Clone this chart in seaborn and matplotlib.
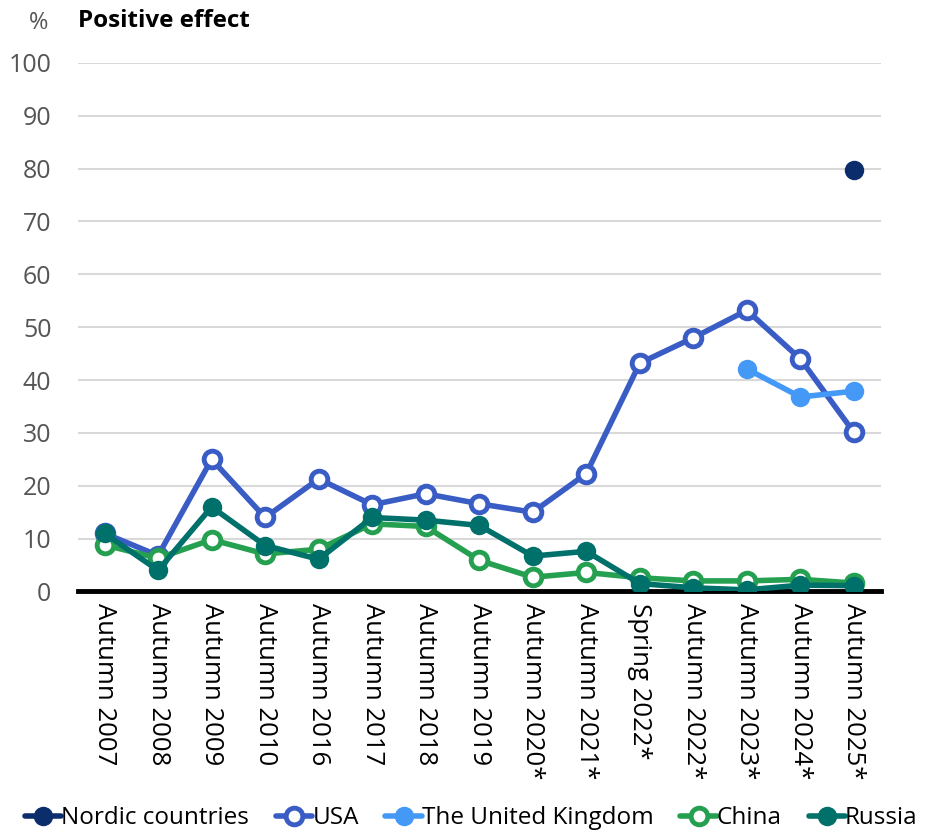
import numpy as np
import pandas as pd
import matplotlib
matplotlib.use('Agg')
import matplotlib.pyplot as plt
import seaborn as sns

# ─── DATA ─────────────────────────────────────────────────────────────────────
PERIODS = ['Autumn 2007', 'Autumn 2008', 'Autumn 2009', 'Autumn 2010', 'Autumn 2016',
           'Autumn 2017', 'Autumn 2018', 'Autumn 2019', 'Autumn 2020*', 'Autumn 2021*',
           'Spring 2022*', 'Autumn 2022*', 'Autumn 2023*', 'Autumn 2024*', 'Autumn 2025*']

nordic = [np.nan] * 14 + [79.8]
usa = [11.0, 6.8, 25.0, 14.0, 21.3, 16.4, 18.5, 16.6, 15.0, 22.3, 43.2, 48.0, 53.2, 44.0, 30.1]
uk = [np.nan] * 12 + [42.1, 36.8, 37.9]
china = [8.8, 6.3, 9.8, 7.1, 8.0, 12.8, 12.3, 5.9, 2.7, 3.6, 2.6, 2.0, 2.0, 2.3, 1.6]
russia = [11.0, 4.0, 16.0, 8.7, 6.1, 14.0, 13.5, 12.5, 6.7, 7.6, 1.5, 0.7, 0.3, 1.2, 1.1]

SERIES = {
    'Nordic countries':   (nordic, '#0b2d6b', True),
    'USA':                (usa,    '#3a5cc5', False),
    'The United Kingdom': (uk,     '#4499f7', True),
    'China':              (china,  '#25a050', False),
    'Russia':             (russia, '#00706a', True),
}

# ─── PLOT ─────────────────────────────────────────────────────────────────────
sns.set_theme(style='white')
plt.rcParams['font.family'] = ['Open Sans', 'DejaVu Sans']

fig, ax = plt.subplots(figsize=(9.49, 8.39), dpi=100)
fig.subplots_adjust(left=0.082, right=0.928, top=0.925, bottom=0.295)

x = np.arange(len(PERIODS))
for name, (vals, color, filled) in SERIES.items():
    df = pd.DataFrame({'x': x, 'y': vals}).dropna()
    sns.lineplot(
        data=df, x='x', y='y', ax=ax, color=color, linewidth=4,
        marker='o', markersize=14 if filled else 12,
        markerfacecolor=color if filled else 'white',
        markeredgecolor=color, markeredgewidth=0 if filled else 3.5,
        label=name, zorder=3,
    )

ax.set_ylim(0, 100)
ax.set_xlim(-0.5, len(PERIODS) - 0.5)
ax.set_yticks(range(0, 101, 10))
ax.set_xticks(x)
ax.set_xticklabels(PERIODS, rotation=-90, fontsize=18.5, color='black')
ax.tick_params(axis='y', labelsize=18, labelcolor='#555555', length=0, pad=19)
ax.tick_params(axis='x', length=0, pad=8)
ax.yaxis.grid(True, color='#d9d9d9', linewidth=1.5)
ax.set_axisbelow(True)
for s in ['top', 'right', 'left']:
    ax.spines[s].set_visible(False)
ax.spines['bottom'].set_color('black')
ax.spines['bottom'].set_linewidth(3.5)
ax.set_xlabel('')
ax.set_ylabel('')

fig.text(0.03, 0.972, '%', fontsize=17, color='#555555', va='center')
fig.text(0.082, 0.975, 'Positive effect', fontsize=17.5, fontweight='bold',
         color='black', va='center')

ax.legend(loc='lower center', bbox_to_anchor=(0.49, -0.47), ncol=5, frameon=False,
          fontsize=17.5, labelcolor='black', handlelength=1.5, handletextpad=0.0,
          columnspacing=1.1, borderaxespad=0)

plt.savefig('out.png', dpi=100)
plt.close()
